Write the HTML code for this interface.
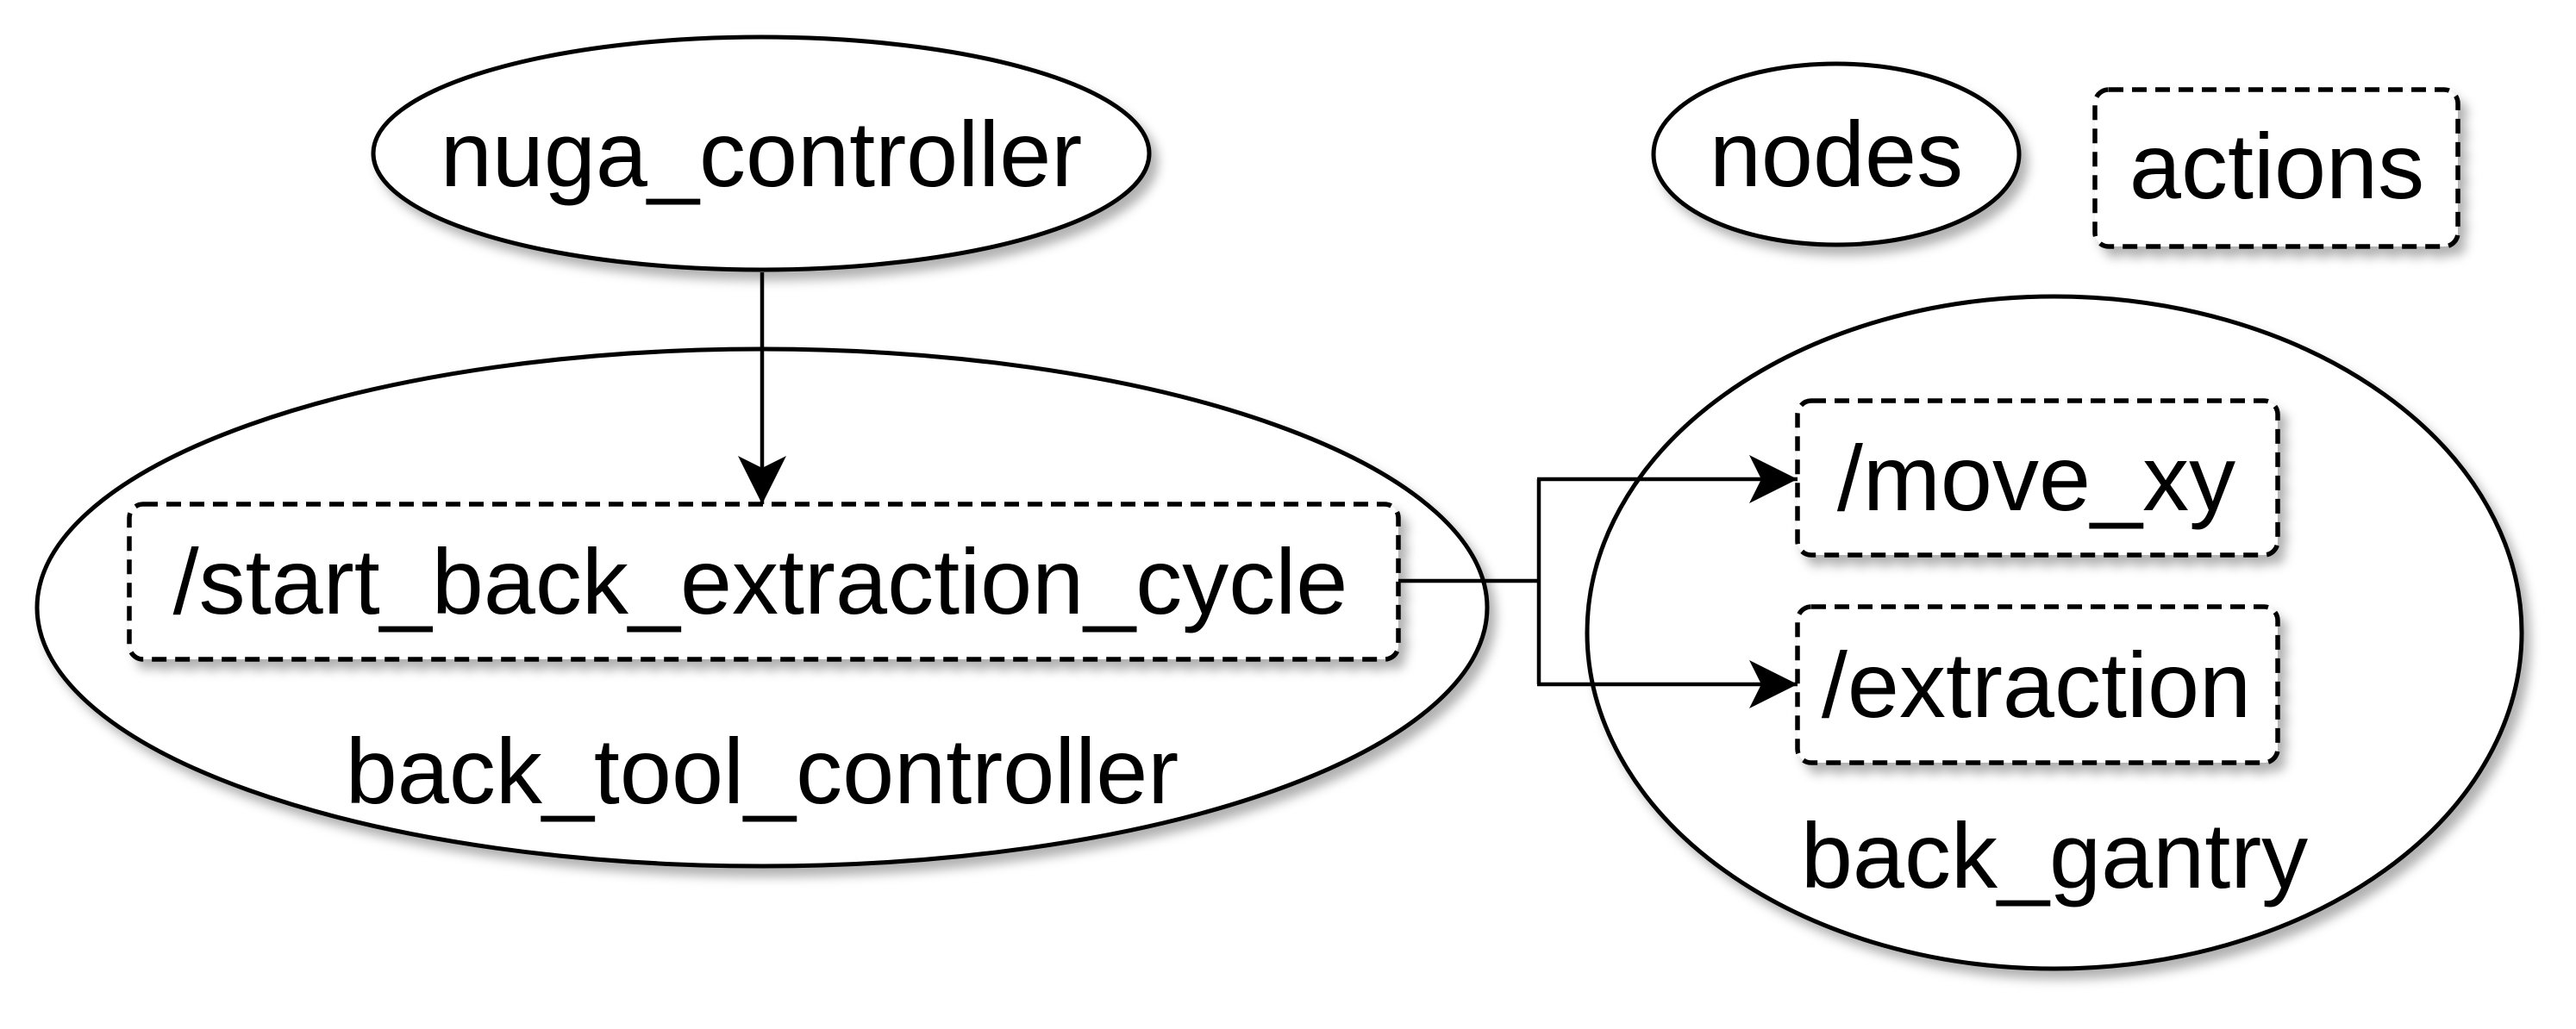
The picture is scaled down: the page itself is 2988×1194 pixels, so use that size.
<!DOCTYPE html>
<html><head><meta charset="utf-8"><style>
html,body{margin:0;padding:0;background:#fff;}
svg{display:block;}
text{font-family:"Liberation Sans",sans-serif;font-size:108px;fill:#000;}
</style></head><body>
<svg width="2988" height="1194" viewBox="0 0 2988 1194" xmlns="http://www.w3.org/2000/svg">
<defs>
<filter id="sh" x="-10%" y="-10%" width="130%" height="130%">
<feDropShadow dx="8" dy="10" stdDeviation="6" flood-color="#000" flood-opacity="0.3"/>
</filter>
<marker id="ar" viewBox="0 0 20 20" refX="20" refY="10" markerWidth="56" markerHeight="56" markerUnits="userSpaceOnUse" orient="auto">
<path d="M0,0 L20,10 L0,20 L5,10 Z" fill="#000"/>
</marker>
</defs>
<g fill="#fff" stroke="#000" stroke-width="5" filter="url(#sh)">
<ellipse cx="883" cy="178" rx="450" ry="135"/>
<ellipse cx="884" cy="705" rx="841" ry="300"/>
<ellipse cx="2130" cy="179" rx="212" ry="105"/>
<ellipse cx="2383" cy="734" rx="542" ry="390"/>
</g>
<g fill="#fff" stroke="#000" stroke-width="5.5" stroke-dasharray="17,10" filter="url(#sh)">
<rect x="150" y="585" width="1472" height="180" rx="16"/>
<rect x="2430" y="104" width="421" height="182" rx="16"/>
<rect x="2085" y="465" width="557" height="179" rx="16"/>
<rect x="2085" y="704" width="557" height="181" rx="16"/>
</g>
<g fill="none" stroke="#000" stroke-width="4.5">
<line x1="884" y1="316" x2="884" y2="585" marker-end="url(#ar)"/>
<polyline points="1622,674 1785,674"/>
<polyline points="1785,556 1785,794"/>
<line x1="1783" y1="556" x2="2085" y2="556" marker-end="url(#ar)"/>
<line x1="1783" y1="794" x2="2085" y2="794" marker-end="url(#ar)"/>
</g>
<g text-anchor="middle">
<text x="883" y="216">nuga_controller</text>
<text x="882" y="712">/start_back_extraction_cycle</text>
<text x="884" y="932">back_tool_controller</text>
<text x="2130" y="216">nodes</text>
<text x="2641" y="230">actions</text>
<text x="2362" y="592">/move_xy</text>
<text x="2362" y="832">/extraction</text>
<text x="2383" y="1030">back_gantry</text>
</g>
</svg>
</body></html>
